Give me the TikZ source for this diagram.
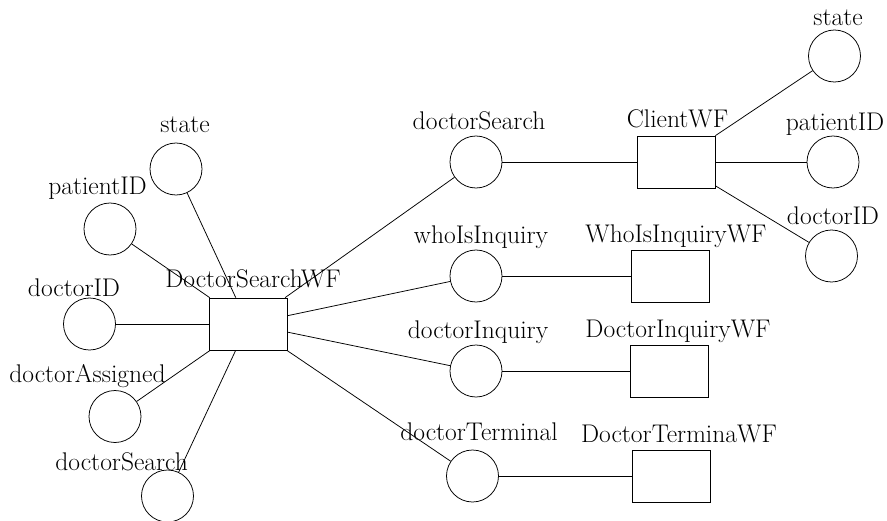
\documentclass[tikz,border=0pt]{standalone}
\tikzset{>=latex,
  attr/.style={draw,circle,minimum size=1.56cm,inner sep=0pt,line width=0.65pt},
  wfbox/.style={draw,rectangle,minimum width=2.34cm,minimum height=1.56cm,inner sep=0pt,line width=0.65pt},
  lab/.style={anchor=base,inner sep=0pt,font=\fontsize{21.8}{26}\selectfont},
  link/.style={line width=0.65pt}}

\begin{document}
\begin{tikzpicture}[x=0.03cm,y=-0.03cm]
  \useasboundingbox (0,0) rectangle (887,520);
  % workflows
  \foreach \n/\x/\y/\lx/\ly/\t in {wf/248/324/253/287/DoctorSearchWF,
      cwf/676/162/677.5/127/ClientWF, wiwf/670/276/676/242/WhoIsInquiryWF,
      diwf/669/371/678/337/DoctorInquiryWF, dtwf/671.5/476/679/442/DoctorTerminaWF} {%
    \node[wfbox] (\n) at (\x,\y) {};
    \node[lab] (\n-l) at (\lx,\ly) {\t};
  }
  % attributes
  \foreach \n/\x/\y/\lx/\ly/\t in {sL/176/169/185/132/state, pL/110/229/97.5/194/patientID,
      dL/89.5/324/74/296/doctorID, daL/115/416.5/87.5/382/doctorAssigned,
      dsL/167.5/496/121.7/470/doctorSearch, dsR/476/162/479/129/doctorSearch,
      wiq/476/276/481/243/whoIsInquiry, diq/476/371/478/338/doctorInquiry,
      dtm/472.5/476/479/440/doctorTerminal, stR/834.5/56/838/25/state,
      piR/833/162/835/130/patientID, diR/831.5/256/833/224/doctorID} {%
    \node[attr] (\n) at (\x,\y) {};
    \node[lab] (\n-l) at (\lx,\ly) {\t};
  }
  \foreach \a in {sL,pL,dL,daL,dsL,dsR,wiq,diq,dtm} { \draw[link] (wf) -- (\a); }
  \foreach \a/\b in {dsR/cwf,wiq/wiwf,diq/diwf,dtm/dtwf,cwf/stR,cwf/piR,cwf/diR} { \draw[link] (\a) -- (\b); }
\end{tikzpicture}
\end{document}
